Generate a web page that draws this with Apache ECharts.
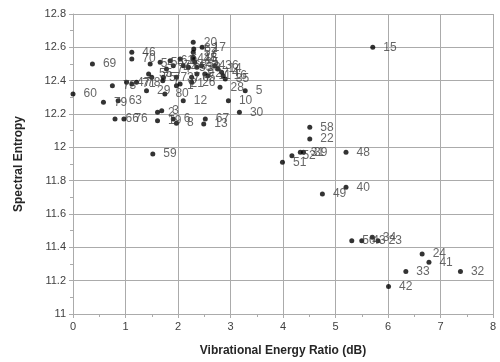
<!DOCTYPE html>
<html>
<head>
<meta charset="utf-8">
<script src="https://cdn.jsdelivr.net/npm/echarts@6/dist/echarts.min.js"></script>
<style>html,body{margin:0;padding:0;background:#fff}#c{width:500px;height:362px}</style>
</head>
<body>
<div id="c"></div>
<script>
// point labels
const names = ["15","58","22","39","31","52","51","48","40","49","34","23","50","43","24","41","33","32","42","59","60","69","79","66","76",
"73","47","71","63","78","29","80","21","12","2","3","19","6","8","13","67","10","30","5","28","35","16","4","14","36","26","20","17","62","18","25","45","44","27","11","9","65","53","46","70","54","55","56","57","61","64","68","72","74","75","77","37","38","7","1"];
// Vibrational Energy Ratio (dB)
const xVals = [5.71,4.51,4.51,4.39,4.33,4.17,3.99,5.20,5.20,4.75,5.70,5.81,5.31,5.50,6.65,6.78,6.34,7.38,6.01,1.52,0.00,0.37,0.58,0.80,0.97,
0.75,1.02,1.12,0.86,1.21,1.40,1.75,2.04,2.10,1.61,1.69,1.61,1.91,1.97,2.49,2.52,2.96,3.17,3.28,2.80,2.90,2.86,2.83,2.76,2.70,2.26,2.29,2.46,2.30,2.29,2.32,2.29,2.45,2.51,2.57,2.36,2.26,2.20,1.12,1.12,1.47,1.44,1.66,2.29,1.85,2.04,2.10,1.91,1.78,1.50,1.72,1.97,2.36,1.71,1.97];
// Spectral Entropy
const yVals = [12.60,12.12,12.05,11.97,11.97,11.95,11.91,11.97,11.76,11.72,11.46,11.44,11.44,11.44,11.36,11.31,11.255,11.255,11.165,11.96,12.32,12.50,12.27,12.17,12.17,
12.37,12.39,12.38,12.28,12.39,12.34,12.32,12.38,12.28,12.21,12.22,12.16,12.17,12.145,12.14,12.17,12.28,12.21,12.34,12.36,12.41,12.43,12.45,12.47,12.49,12.39,12.63,12.60,12.59,12.54,12.51,12.53,12.49,12.44,12.43,12.44,12.42,12.48,12.57,12.53,12.50,12.44,12.51,12.57,12.52,12.53,12.49,12.49,12.47,12.42,12.42,12.42,12.48,12.40,12.37];
const xTicks = {min: 0, max: 8, interval: 1};
const yTicks = {min: 11, max: 12.8, interval: 0.2};

// label nudges (style only)
const labelNudge = {"51": [0, 5], "52": [2, 6], "31": [15, 7], "60": [-2, 9], "76": [6, 0]};

const data = names.map((n, i) => {
  const item = {name: n, value: [xVals[i], yVals[i]]};
  if (labelNudge[n]) item.label = {offset: labelNudge[n]};
  return item;
});

const gridColor = '#ababab';
const chart = echarts.init(document.getElementById('c'), null, {renderer: 'canvas'});
chart.setOption({
  animation: false,
  grid: {left: 73, right: 7, top: 14, bottom: 46},
  xAxis: {
    type: 'value', min: xTicks.min, max: xTicks.max, interval: xTicks.interval,
    name: 'Vibrational Energy Ratio (dB)', nameLocation: 'middle', nameGap: 31,
    nameTextStyle: {fontFamily: 'Liberation Sans', fontWeight: 'bold', fontSize: 12, color: '#262626'},
    axisLine: {show: true, lineStyle: {color: gridColor}},
    axisTick: {show: true, length: 4, lineStyle: {color: gridColor}},
    minorTick: {show: true, splitNumber: 2, length: 3, lineStyle: {color: gridColor}},
    axisLabel: {fontFamily: 'Liberation Sans', fontSize: 11, color: '#404040', margin: 7},
    splitLine: {show: true, lineStyle: {color: gridColor, width: 1}}
  },
  yAxis: {
    type: 'value', min: yTicks.min, max: yTicks.max, interval: yTicks.interval,
    name: 'Spectral Entropy', nameLocation: 'middle', nameGap: 48, nameRotate: 90,
    nameTextStyle: {fontFamily: 'Liberation Sans', fontWeight: 'bold', fontSize: 12, color: '#262626'},
    axisLine: {show: true, lineStyle: {color: gridColor}},
    axisTick: {show: true, length: 4, lineStyle: {color: gridColor}},
    minorTick: {show: true, splitNumber: 2, length: 3, lineStyle: {color: gridColor}},
    axisLabel: {fontFamily: 'Liberation Sans', fontSize: 11, color: '#404040', margin: 7},
    splitLine: {show: true, lineStyle: {color: gridColor, width: 1}}
  },
  series: [{
    type: 'scatter',
    symbol: 'circle',
    symbolSize: 5,
    itemStyle: {color: '#000'},
    label: {
      show: true, position: 'right', distance: 8,
      formatter: p => p.name,
      fontFamily: 'Liberation Sans', fontSize: 12, color: '#404040'
    },
    labelLayout: {hideOverlap: false},
    data: data
  }]
});
</script>
</body>
</html>
